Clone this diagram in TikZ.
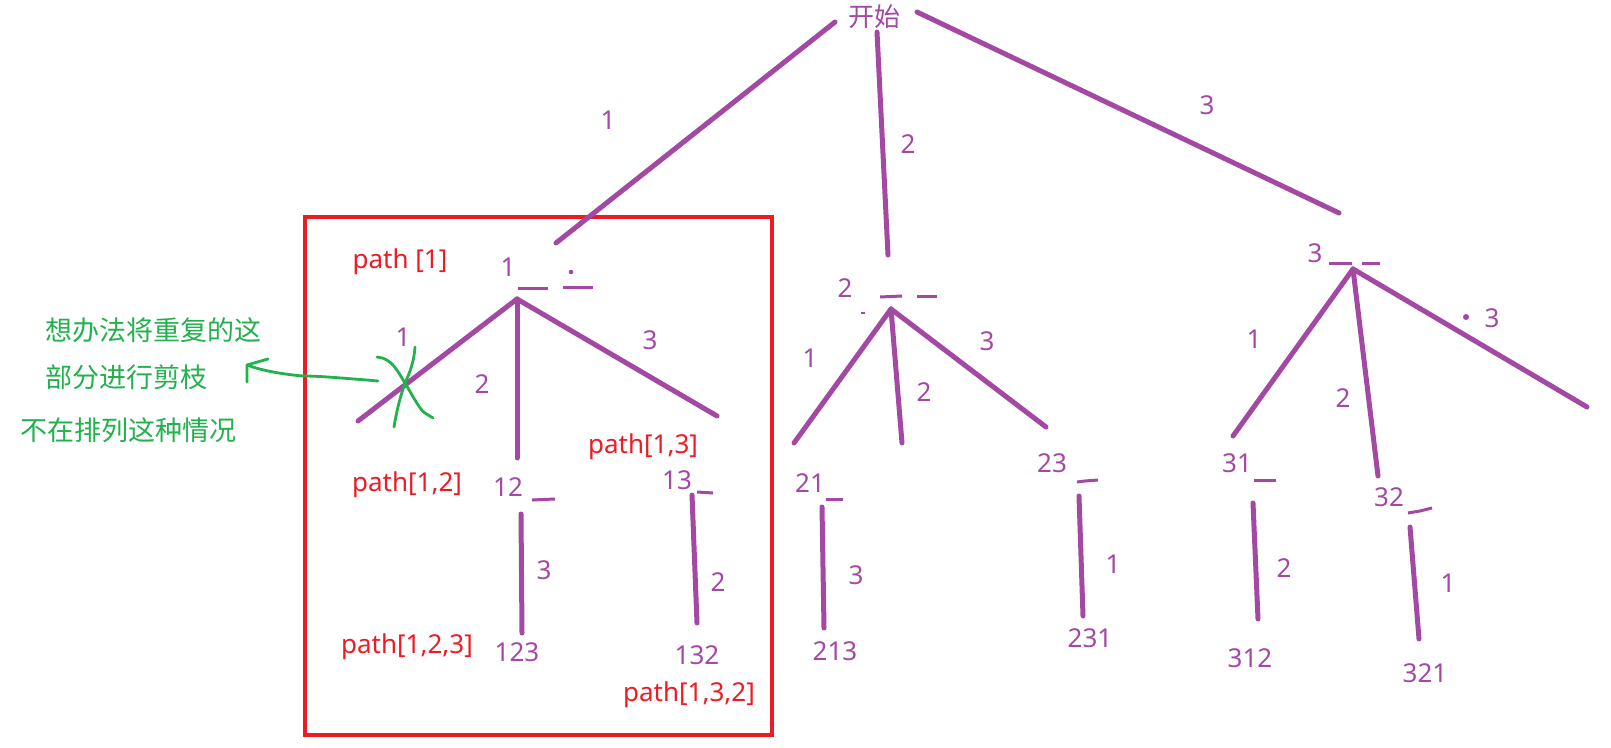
\documentclass[tikz,border=0pt]{standalone}
\usepackage{fontspec}
\setmainfont{Noto Sans}
\newfontfamily\cjk{Noto Sans CJK SC}
\definecolor{pur}{HTML}{A349A4}
\definecolor{redc}{HTML}{ED1C24}
\definecolor{grn}{HTML}{22B14C}
\begin{document}
\begin{tikzpicture}[x=1pt,y=-1pt,
  pedge/.style={draw=pur,line width=5pt,line cap=round},
  under/.style={draw=pur,line width=3pt},
  num/.style={text=pur,font=\fontsize{26}{30}\selectfont,inner sep=0pt},
  redlab/.style={text=redc,font=\fontsize{26}{30}\selectfont,inner sep=0pt},
  grnlab/.style={text=grn,font=\cjk\fontsize{27}{30}\selectfont,inner sep=0pt,anchor=west},
  gline/.style={draw=grn,line width=2.8pt,line cap=round,line join=round}]
\useasboundingbox (0,0) rectangle (1611,747);
\fill[white] (0,0) rectangle (1611,747);

% red frame
\draw[redc,line width=4.5pt] (305,217) rectangle (772,735);

% root
\node[num,font=\cjk\fontsize{26}{30}\selectfont] (start) at (874,17) {开始};
\coordinate (s1) at (835,22); \coordinate (e1) at (556,243);
\coordinate (s2) at (877,32); \coordinate (e2) at (888,255);
\coordinate (s3) at (917,12); \coordinate (e3) at (1339,213);
\draw[pedge] (s1) -- (e1);
\draw[pedge] (s2) -- (e2);
\draw[pedge] (s3) -- (e3);
\node[num] (l1) at (608,120) {1};
\node[num] (l2) at (908,144) {2};
\node[num] (l3) at (1207,105) {3};

% subtree 1
\node[num] (n1) at (508,267) {1};
\draw[under] (518,288) -- (548,288);
\draw[under] (563,287) -- (593,287);
\fill[pur] (571,272) circle (2.3);
\coordinate (v1) at (517,299);
\coordinate (a11) at (358,421);
\coordinate (a12) at (517,458);
\coordinate (a13) at (717,416);
\draw[pedge] (v1) -- (a11);
\draw[pedge] (v1) -- (a12);
\draw[pedge] (v1) -- (a13);
\node[num] (m11) at (403,337) {1};
\node[num] (m12) at (482,384) {2};
\node[num] (m13) at (650,340) {3};

\node[num] (n12) at (508,487) {12};
\draw[under] (532,500) -- (555,499);
\coordinate (t12) at (521,514); \coordinate (b12) at (522,633);
\draw[pedge] (t12) -- (b12);
\node[num] (m123) at (544,570) {3};
\node[num] (n123) at (517,652) {123};

\node[num] (n13) at (677,480) {13};
\draw[under] (697,492) -- (713,493);
\coordinate (t13) at (692,495); \coordinate (b13) at (697,623);
\draw[pedge] (t13) -- (b13);
\node[num] (m132) at (718,582) {2};
\node[num] (n132) at (697,655) {132};

\node[redlab] (p1) at (400,262) {path [1]};
\node[redlab] (p12) at (407,485) {path[1,2]};
\node[redlab] (p13) at (643,447) {path[1,3]};
\node[redlab] (p123) at (407,647) {path[1,2,3]};
\node[redlab] (p132) at (689,695) {path[1,3,2]};

% subtree 2
\node[num] (n2) at (845,288) {2};
\draw[under] (880,297) -- (902,296);
\draw[under] (917,296) -- (937,296);
\draw[draw=pur,line width=1.5pt] (861,313) -- (865,313);
\coordinate (v2) at (891,309);
\coordinate (a21) at (794,443);
\coordinate (a22) at (902,443);
\coordinate (a23) at (1046,427);
\draw[pedge] (v2) -- (a21);
\draw[pedge] (v2) -- (a22);
\draw[pedge] (v2) -- (a23);
\node[num] (m21) at (810,358) {1};
\node[num] (m22) at (924,392) {2};
\node[num] (m23) at (987,341) {3};

\node[num] (n21) at (810,483) {21};
\draw[under] (826,499) -- (843,499);
\coordinate (t21) at (822,507); \coordinate (b21) at (824,628);
\draw[pedge] (t21) -- (b21);
\node[num] (m213) at (856,575) {3};
\node[num] (n213) at (835,651) {213};

\node[num] (n23) at (1052,463) {23};
\draw[under] (1077,482) -- (1085,481) -- (1098,480);
\coordinate (t23) at (1079,496); \coordinate (b23) at (1083,616);
\draw[pedge] (t23) -- (b23);
\node[num] (m231) at (1113,564) {1};
\node[num] (n231) at (1090,638) {231};

% subtree 3
\node[num] (n3) at (1315,253) {3};
\draw[under] (1329,263) -- (1352,263);
\draw[under] (1362,263) -- (1380,263);
\coordinate (v3) at (1353,269);
\coordinate (a31) at (1233,436);
\coordinate (a32) at (1378,476);
\coordinate (a33) at (1587,407);
\draw[pedge] (v3) -- (a31);
\draw[pedge] (v3) -- (a32);
\draw[pedge] (v3) -- (a33);
\fill[pur] (1466,317) circle (3);
\node[num] (m31) at (1254,339) {1};
\node[num] (m32) at (1343,398) {2};
\node[num] (m33) at (1492,318) {3};

\node[num] (n31) at (1237,463) {31};
\draw[under] (1254,480) -- (1276,480);
\coordinate (t31) at (1253,503); \coordinate (b31) at (1258,619);
\draw[pedge] (t31) -- (b31);
\node[num] (m312) at (1284,568) {2};
\node[num] (n312) at (1250,658) {312};

\node[num] (n32) at (1389,497) {32};
\draw[under] (1408,513) -- (1420,511) -- (1432,508);
\coordinate (t32) at (1410,527); \coordinate (b32) at (1419,639);
\draw[pedge] (t32) -- (b32);
\node[num] (m321) at (1448,583) {1};
\node[num] (n321) at (1425,673) {321};

% green annotation
\node[grnlab] (g1) at (45,330) {想办法将重复的这};
\node[grnlab] (g2) at (45,377) {部分进行剪枝};
\node[grnlab] (g3) at (20,430) {不在排列这种情况};
\coordinate (xc) at (405,383);
\draw[gline] (377,357) .. controls (392,358) and (398,372) .. (xc)
  .. controls (414,398) and (420,410) .. (425,413) -- (433,418);
\draw[gline] (415,347) .. controls (414,362) and (410,372) .. (xc)
  .. controls (399,400) and (396,415) .. (394,427);
\coordinate (ts) at (378,381);
\coordinate (tip) at (247,365);
\draw[gline] (ts) -- (367,380) .. controls (340,378) and (320,376) .. (303,376)
  .. controls (280,374) and (260,370) .. (tip);
\draw[gline] (268,359) -- (tip) -- (247,382);
\end{tikzpicture}
\end{document}
